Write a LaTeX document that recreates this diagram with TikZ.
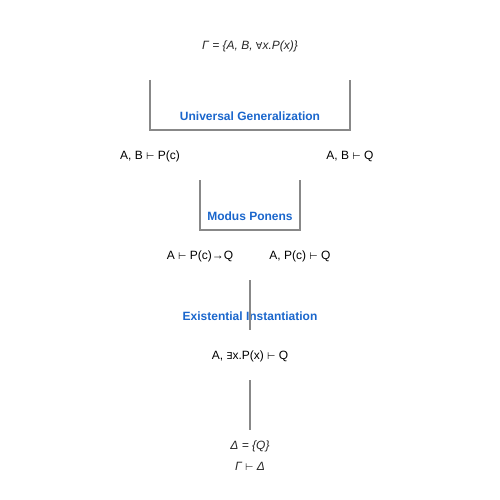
\documentclass[tikz,border=0pt]{standalone}
\usepackage{fontspec}
\setmainfont{Liberation Sans}
\newfontfamily\symfont[Scale=0.8]{DejaVu Sans}
\newcommand{\vdashs}{{\symfont\char"22A2}}
\newcommand{\forallsym}{{\symfont\char"2200}}
\newcommand{\existsym}{{\symfont\char"2203}}
\definecolor{rulegray}{HTML}{888888}
\definecolor{ruleblue}{HTML}{1A66CC}
\tikzset{
  seq/.style={font=\fontsize{12}{14}\selectfont, text=black, inner sep=0pt},
  ital/.style={font=\fontsize{12}{14}\selectfont\itshape, text=black!85, inner sep=0pt},
  rulelabel/.style={font=\fontsize{12}{14}\selectfont\bfseries, text=ruleblue, inner sep=0pt},
  bar/.style={draw=rulegray, line width=2pt}
}
\begin{document}
\begin{tikzpicture}[x=1pt,y=-1pt]
\useasboundingbox (0,0) rectangle (500,500);
\node[ital] (gamma) at (250,46) {Γ = \{A, B, \forallsym x.P(x)\}};
% Universal Generalization
\coordinate (ug1) at (150,80);
\coordinate (ug2) at (150,130);
\coordinate (ug3) at (350,130);
\coordinate (ug4) at (350,80);
\draw[bar] (ug1) -- (ug2) -- (ug3) -- (ug4);
\node[rulelabel] (uglab) at (250,116) {Universal Generalization};
\node[seq] (s1) at (150,156) {A, B \vdashs{} P(c)};
\node[seq] (s2) at (350,156) {A, B \vdashs{} Q};
% Modus Ponens
\coordinate (mp1) at (200,180);
\coordinate (mp2) at (200,230);
\coordinate (mp3) at (300,230);
\coordinate (mp4) at (300,180);
\draw[bar] (mp1) -- (mp2) -- (mp3) -- (mp4);
\node[rulelabel] (mplab) at (250,216) {Modus Ponens};
\node[seq] (s3) at (200,256) {A \vdashs{} P(c)→Q};
\node[seq] (s4) at (300,256) {A, P(c) \vdashs{} Q};
% Existential Instantiation
\coordinate (ei1) at (250,280);
\coordinate (ei2) at (250,330);
\node[rulelabel] (eilab) at (250,316) {Existential Instantiation};
\draw[bar] (ei1) -- (ei2);
\node[seq] (s5) at (250,356) {A, \existsym x.P(x) \vdashs{} Q};
\coordinate (f1) at (250,380);
\coordinate (f2) at (250,430);
\draw[bar] (f1) -- (f2);
\node[ital] (delta) at (250,446) {Δ = \{Q\}};
\node[ital] (concl) at (250,466) {Γ \vdashs{} Δ};
\end{tikzpicture}
\end{document}
